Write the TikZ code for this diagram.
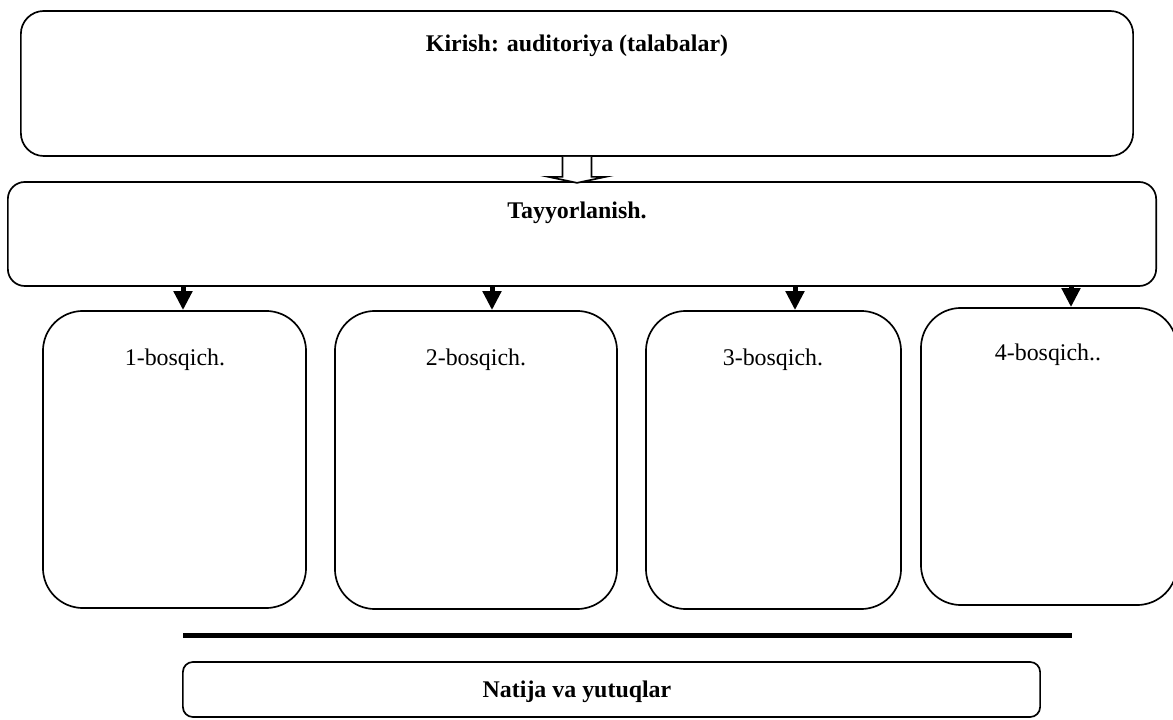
\documentclass[tikz,border=0pt]{standalone}
\usepackage{fontspec}
\setmainfont{Liberation Serif}
\usetikzlibrary{arrows.meta}

\begin{document}
\begin{tikzpicture}[x=0.025cm,y=-0.025cm,
    box/.style={draw,line width=1.2pt,rectangle},
    lbl/.style={font=\fontsize{17}{20}\selectfont},
    blbl/.style={font=\fontsize{17}{20}\selectfont\bfseries},
    arr/.style={line width=0.125cm,-{Triangle[width=0.45cm,length=0.475cm]}}]
    \useasboundingbox (0,0) rectangle (1173,720);

    \node[box,rounded corners=0.575cm,minimum width=27.8cm,minimum height=3.625cm] (kirish) at (577,83.5) {};
    \node[blbl] (kirishT) at (577,46) {Kirish: auditoriya (talabalar)};

    \node[box,rounded corners=0.425cm,minimum width=28.7cm,minimum height=2.6cm] (tayyor) at (582,234) {};
    \node[blbl] (tayyorT) at (577,213) {Tayyorlanish.};

    \draw[line width=1.2pt,fill=white] (kirish.south) ++(-14.5,0) -- ++(0,20) -- ++(-14,0)
        -- ++(28.5,6) -- ++(28.5,-6) -- ++(-14,0) -- ++(0,-20);

    \node[box,rounded corners=1cm,minimum width=6.575cm,minimum height=7.425cm] (bosq1) at (174.5,459.5) {};
    \node[box,rounded corners=1cm,minimum width=7.05cm,minimum height=7.45cm] (bosq2) at (476,460) {};
    \node[box,rounded corners=1cm,minimum width=6.375cm,minimum height=7.45cm] (bosq3) at (773.5,460) {};
    \node[box,rounded corners=1cm,minimum width=6.4cm,minimum height=7.425cm] (bosq4) at (1049,456.5) {};
    \node[lbl] (bosq1T) at (175,360) {1-bosqich.};
    \node[lbl] (bosq2T) at (476,360) {2-bosqich.};
    \node[lbl] (bosq3T) at (773,360) {3-bosqich.};
    \node[lbl] (bosq4T) at (1048,355) {4-bosqich..};

    \coordinate (a1) at (183,0);
    \coordinate (a2) at (492,0);
    \coordinate (a3) at (795,0);
    \coordinate (a4) at (1071,0);
    \draw[arr] (a1 |- tayyor.south) -- (a1 |- bosq1.north);
    \draw[arr] (a2 |- tayyor.south) -- (a2 |- bosq2.north);
    \draw[arr] (a3 |- tayyor.south) -- (a3 |- bosq3.north);
    \draw[arr] (a4 |- tayyor.south) -- (a4 |- bosq4.north);

    \coordinate (l1) at (183,636);
    \coordinate (l2) at (1072,636);
    \draw[line width=0.125cm] (l1) -- (l2);

    \node[box,rounded corners=0.25cm,minimum width=21.425cm,minimum height=1.375cm] (natija) at (611.5,689.5) {};
    \node[blbl] (natijaT) at (577,692) {Natija va yutuqlar};
\end{tikzpicture}
\end{document}
